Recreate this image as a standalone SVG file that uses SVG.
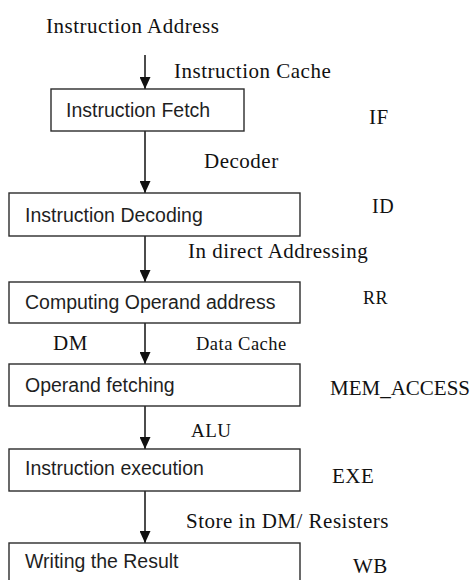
<svg xmlns="http://www.w3.org/2000/svg" width="473" height="580" viewBox="0 0 473 580">
<style>
.box{fill:#fff;stroke:#2b2b2b;stroke-width:1.4}
.bt{font-family:"Liberation Sans",Arial,sans-serif;font-size:19.5px;fill:#1f1f1f}
.st{font-family:"Liberation Serif","Times New Roman",serif;font-size:21px;fill:#111;letter-spacing:0.5px}
.conn{stroke:#111;stroke-width:1.5;fill:none;marker-end:url(#ah)}
</style>
<defs>
<marker id="ah" markerUnits="userSpaceOnUse" markerWidth="12" markerHeight="11" viewBox="0 0 12 11" refX="12" refY="5.5" orient="auto">
<path d="M0,0 L12,5.5 L0,11 Z" fill="#111"/>
</marker>
</defs>
<rect width="473" height="580" fill="#fff"/>
<g id="connectors">
<line class="conn" x1="145" y1="55" x2="145" y2="89"/>
<line class="conn" x1="145" y1="131" x2="145" y2="193"/>
<line class="conn" x1="145" y1="236" x2="145" y2="282"/>
<line class="conn" x1="145" y1="323" x2="145" y2="364"/>
<line class="conn" x1="145" y1="406" x2="145" y2="449"/>
<line class="conn" x1="145" y1="490" x2="145" y2="543"/>
</g>
<g id="labels">
<text class="st" x="46" y="33">Instruction Address</text>
<text class="st" x="174" y="78">Instruction Cache</text>
<text class="st" x="204" y="168">Decoder</text>
<text class="st" x="188" y="258">In direct Addressing</text>
<text class="st" x="53" y="350">DM</text>
<text class="st" x="196" y="350" style="font-size:18.5px">Data Cache</text>
<text class="st" x="191" y="437" style="font-size:19px">ALU</text>
<text class="st" x="186" y="528">Store in DM/ Resisters</text>
<text class="st" x="369" y="124">IF</text>
<text class="st" x="372" y="213" style="font-size:20px">ID</text>
<text class="st" x="363" y="304" style="font-size:18px">RR</text>
<text class="st" x="330" y="395" style="letter-spacing:0">MEM_ACCESS</text>
<text class="st" x="332" y="483">EXE</text>
<text class="st" x="353" y="573">WB</text>
</g>
<g id="node-if">
<rect class="box" x="51" y="89" width="193" height="42"/>
<text class="bt" x="66" y="117">Instruction Fetch</text>
</g>
<g id="node-id">
<rect class="box" x="9" y="193" width="291" height="43"/>
<text class="bt" x="25" y="222">Instruction Decoding</text>
</g>
<g id="node-rr">
<rect class="box" x="9" y="282" width="291" height="41"/>
<text class="bt" x="25" y="309">Computing Operand address</text>
</g>
<g id="node-mem">
<rect class="box" x="9" y="364" width="291" height="42"/>
<text class="bt" x="25" y="392">Operand fetching</text>
</g>
<g id="node-exe">
<rect class="box" x="9" y="449" width="291" height="42"/>
<text class="bt" x="25" y="475">Instruction execution</text>
</g>
<g id="node-wb">
<rect class="box" x="9" y="543" width="291" height="50"/>
<text class="bt" x="25" y="568">Writing the Result</text>
</g>
</svg>
